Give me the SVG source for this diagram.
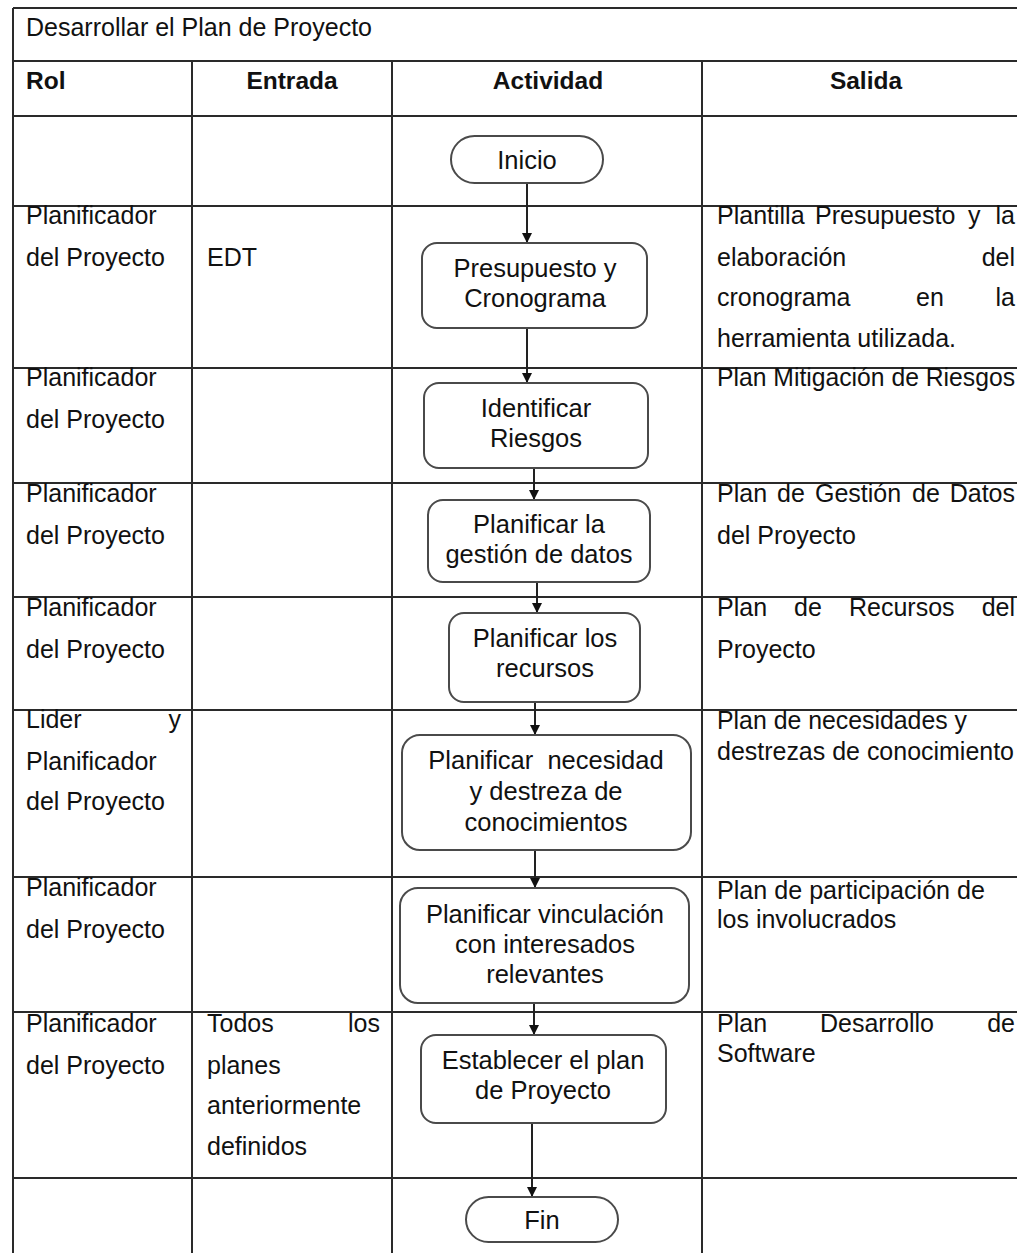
<svg xmlns="http://www.w3.org/2000/svg" width="1017" height="1253" viewBox="0 0 1017 1253">
  <defs>
    <style>
      .grid { stroke: #2a2a2a; stroke-width: 2; fill: none; }
      .t { font-family: "Liberation Sans", Arial, sans-serif; font-size: 25px; fill: #111; }
      .h { font-family: "Liberation Sans", Arial, sans-serif; font-size: 24.5px; font-weight: bold; fill: #111; }
      .n { font-family: "Liberation Sans", Arial, sans-serif; font-size: 25.5px; fill: #111; text-anchor: middle; }
      .box { fill: #fff; stroke: #4a4a4a; stroke-width: 2; }
      .conn { stroke: #222; stroke-width: 2; fill: none; marker-end: url(#arrow); }
      .end { text-anchor: end; }
    </style>
    <marker id="arrow" markerUnits="userSpaceOnUse" markerWidth="10" markerHeight="10" viewBox="0 0 10 10" refX="10" refY="5" orient="auto">
      <path d="M0,0 L10,5 L0,10 z" fill="#111"/>
    </marker>
  </defs>

  <rect width="1017" height="1253" fill="#fff"/>

  <!-- table grid -->
  <g id="table">
    <path class="grid" d="M13,8 H1017 M13,61 H1017 M13,116 H1017 M13,206 H1017 M13,368 H1017 M13,483 H1017 M13,597 H1017 M13,710 H1017 M13,877 H1017 M13,1012 H1017 M13,1178 H1017"/>
    <path class="grid" d="M13,8 V1253 M192,61 V1253 M392,61 V1253 M702,61 V1253"/>
  </g>

  <!-- title and headers -->
  <g id="headers">
    <text class="t" x="26" y="36">Desarrollar el Plan de Proyecto</text>
    <text class="h" x="26" y="89">Rol</text>
    <text class="h" x="292" y="89" text-anchor="middle">Entrada</text>
    <text class="h" x="548" y="89" text-anchor="middle">Actividad</text>
    <text class="h" x="866" y="89" text-anchor="middle">Salida</text>
  </g>

  <!-- Rol column -->
  <g id="rol">
    <text class="t" x="26" y="224">Planificador</text>
    <text class="t" x="26" y="266">del Proyecto</text>
    <text class="t" x="26" y="386">Planificador</text>
    <text class="t" x="26" y="428">del Proyecto</text>
    <text class="t" x="26" y="502">Planificador</text>
    <text class="t" x="26" y="544">del Proyecto</text>
    <text class="t" x="26" y="616">Planificador</text>
    <text class="t" x="26" y="658">del Proyecto</text>
    <text class="t" x="26" y="728">Lider</text>
    <text class="t end" x="181" y="728">y</text>
    <text class="t" x="26" y="770">Planificador</text>
    <text class="t" x="26" y="810">del Proyecto</text>
    <text class="t" x="26" y="896">Planificador</text>
    <text class="t" x="26" y="938">del Proyecto</text>
    <text class="t" x="26" y="1032">Planificador</text>
    <text class="t" x="26" y="1074">del Proyecto</text>
  </g>

  <!-- Entrada column -->
  <g id="entrada">
    <text class="t" x="207" y="266">EDT</text>
    <text class="t" x="207" y="1032">Todos</text>
    <text class="t end" x="380" y="1032">los</text>
    <text class="t" x="207" y="1074">planes</text>
    <text class="t" x="207" y="1114">anteriormente</text>
    <text class="t" x="207" y="1155">definidos</text>
  </g>

  <!-- Salida column -->
  <g id="salida">
    <text class="t" x="717" y="224">Plantilla</text>
    <text class="t" x="815" y="224">Presupuesto</text>
    <text class="t" x="968" y="224">y</text>
    <text class="t end" x="1015" y="224">la</text>
    <text class="t" x="717" y="266">elaboración</text>
    <text class="t end" x="1015" y="266">del</text>
    <text class="t" x="717" y="306">cronograma</text>
    <text class="t" x="916" y="306">en</text>
    <text class="t end" x="1015" y="306">la</text>
    <text class="t" x="717" y="347">herramienta utilizada.</text>

    <text class="t" x="717" y="386" textLength="298" lengthAdjust="spacingAndGlyphs">Plan Mitigación de Riesgos</text>

    <text class="t" x="717" y="502">Plan</text>
    <text class="t" x="777" y="502">de</text>
    <text class="t" x="815" y="502">Gestión</text>
    <text class="t" x="912" y="502">de</text>
    <text class="t end" x="1015" y="502">Datos</text>
    <text class="t" x="717" y="544">del Proyecto</text>

    <text class="t" x="717" y="616">Plan</text>
    <text class="t" x="794" y="616">de</text>
    <text class="t" x="849" y="616">Recursos</text>
    <text class="t end" x="1015" y="616">del</text>
    <text class="t" x="717" y="658">Proyecto</text>

    <text class="t" x="717" y="729" textLength="250" lengthAdjust="spacingAndGlyphs">Plan de necesidades y</text>
    <text class="t" x="717" y="760" textLength="297" lengthAdjust="spacingAndGlyphs">destrezas de conocimiento</text>

    <text class="t" x="717" y="899" textLength="268" lengthAdjust="spacingAndGlyphs">Plan de participación de</text>
    <text class="t" x="717" y="928">los involucrados</text>

    <text class="t" x="717" y="1032">Plan</text>
    <text class="t" x="820" y="1032">Desarrollo</text>
    <text class="t end" x="1015" y="1032">de</text>
    <text class="t" x="717" y="1062">Software</text>
  </g>

  <!-- connectors -->
  <g id="connectors">
    <line class="conn" x1="527" y1="183" x2="527" y2="243"/>
    <line class="conn" x1="527" y1="328" x2="527" y2="383"/>
    <line class="conn" x1="534" y1="468" x2="534" y2="500"/>
    <line class="conn" x1="537" y1="582" x2="537" y2="613"/>
    <line class="conn" x1="535" y1="702" x2="535" y2="735"/>
    <line class="conn" x1="535" y1="850" x2="535" y2="888"/>
    <line class="conn" x1="534" y1="1003" x2="534" y2="1035"/>
    <line class="conn" x1="532" y1="1123" x2="532" y2="1197"/>
  </g>

  <!-- activity nodes -->
  <g id="inicio">
    <rect class="box" x="451" y="136" width="152" height="47" rx="23.5"/>
    <text class="n" x="527" y="169">Inicio</text>
  </g>
  <g id="presupuesto">
    <rect class="box" x="422" y="243" width="225" height="85" rx="15"/>
    <text class="n" x="535" y="277">Presupuesto y</text>
    <text class="n" x="535" y="307">Cronograma</text>
  </g>
  <g id="riesgos">
    <rect class="box" x="424" y="383" width="224" height="85" rx="15"/>
    <text class="n" x="536" y="417">Identificar</text>
    <text class="n" x="536" y="447">Riesgos</text>
  </g>
  <g id="datos">
    <rect class="box" x="428" y="500" width="222" height="82" rx="15"/>
    <text class="n" x="539" y="533">Planificar la</text>
    <text class="n" x="539" y="563">gestión de datos</text>
  </g>
  <g id="recursos">
    <rect class="box" x="449" y="613" width="191" height="89" rx="15"/>
    <text class="n" x="545" y="647">Planificar los</text>
    <text class="n" x="545" y="677">recursos</text>
  </g>
  <g id="necesidad">
    <rect class="box" x="402" y="735" width="289" height="115" rx="18"/>
    <text class="n" x="546" y="769" xml:space="preserve">Planificar  necesidad</text>
    <text class="n" x="546" y="800">y destreza de</text>
    <text class="n" x="546" y="831">conocimientos</text>
  </g>
  <g id="vinculacion">
    <rect class="box" x="400" y="888" width="289" height="115" rx="18"/>
    <text class="n" x="545" y="923">Planificar vinculación</text>
    <text class="n" x="545" y="953">con interesados</text>
    <text class="n" x="545" y="983">relevantes</text>
  </g>
  <g id="establecer">
    <rect class="box" x="421" y="1035" width="245" height="88" rx="15"/>
    <text class="n" x="543" y="1069">Establecer el plan</text>
    <text class="n" x="543" y="1099">de Proyecto</text>
  </g>
  <g id="fin">
    <rect class="box" x="466" y="1197" width="152" height="45" rx="22.5"/>
    <text class="n" x="542" y="1229">Fin</text>
  </g>
</svg>
